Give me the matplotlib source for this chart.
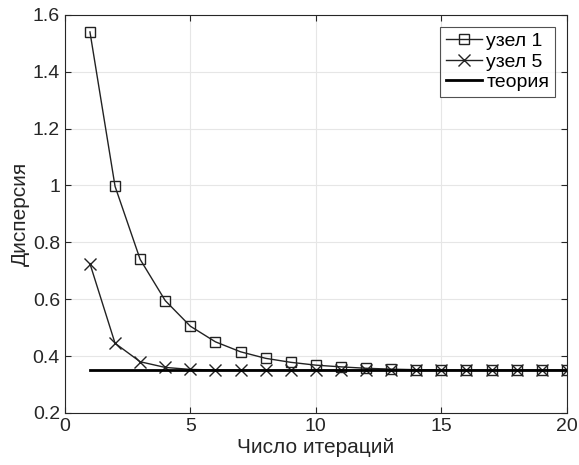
import matplotlib.pyplot as plt

plt.rcParams['font.family'] = ['Liberation Sans', 'DejaVu Sans']

iters = list(range(1, 21))
node1 = [1.54, 0.997, 0.74, 0.595, 0.505, 0.45, 0.415, 0.392, 0.378, 0.368,
         0.362, 0.357, 0.354, 0.352, 0.351, 0.350, 0.350, 0.350, 0.350, 0.350]
node5 = [0.725, 0.445, 0.38, 0.36, 0.353, 0.351, 0.350, 0.350, 0.350, 0.350,
         0.350, 0.350, 0.350, 0.350, 0.350, 0.350, 0.350, 0.350, 0.350, 0.350]
theory = [0.35] * 20

fig = plt.figure(figsize=(5.79, 4.65), dpi=100)
ax = fig.add_axes([0.112, 0.112, 0.867, 0.856])

ax.plot(iters, node1, color='#222222', lw=1.0, marker='s', ms=7,
        mfc='none', mec='#222222', mew=1.0, label='узел 1')
ax.plot(iters, node5, color='#222222', lw=1.0, marker='x', ms=8,
        mew=1.0, label='узел 5')
ax.plot(iters, theory, color='black', lw=2.0, label='теория')

ax.set_xlim(0, 20)
ax.set_ylim(0.2, 1.6)
ax.set_xticks([0, 5, 10, 15, 20])
ax.set_yticks([0.2, 0.4, 0.6, 0.8, 1.0, 1.2, 1.4, 1.6])
ax.set_yticklabels(['0.2', '0.4', '0.6', '0.8', '1', '1.2', '1.4', '1.6'])
ax.grid(True, color='#e6e6e6', lw=0.8)
ax.set_axisbelow(True)
ax.tick_params(direction='in', labelsize=14, colors='#262626', length=4,
               top=True, right=True)
for s in ax.spines.values():
    s.set_color('#262626')
    s.set_linewidth(0.8)

ax.set_xlabel('Число итераций', fontsize=15, color='#262626', labelpad=2)
ax.set_ylabel('Дисперсия', fontsize=15, color='#262626', labelpad=2)

leg = ax.legend(loc='upper right', fontsize=14, fancybox=False,
                edgecolor='#262626', handlelength=1.9, handletextpad=0.2,
                borderpad=0.3, labelspacing=0.15, borderaxespad=0.6)
leg.get_frame().set_linewidth(0.8)

fig.savefig('out.png', dpi=100, facecolor='white')
